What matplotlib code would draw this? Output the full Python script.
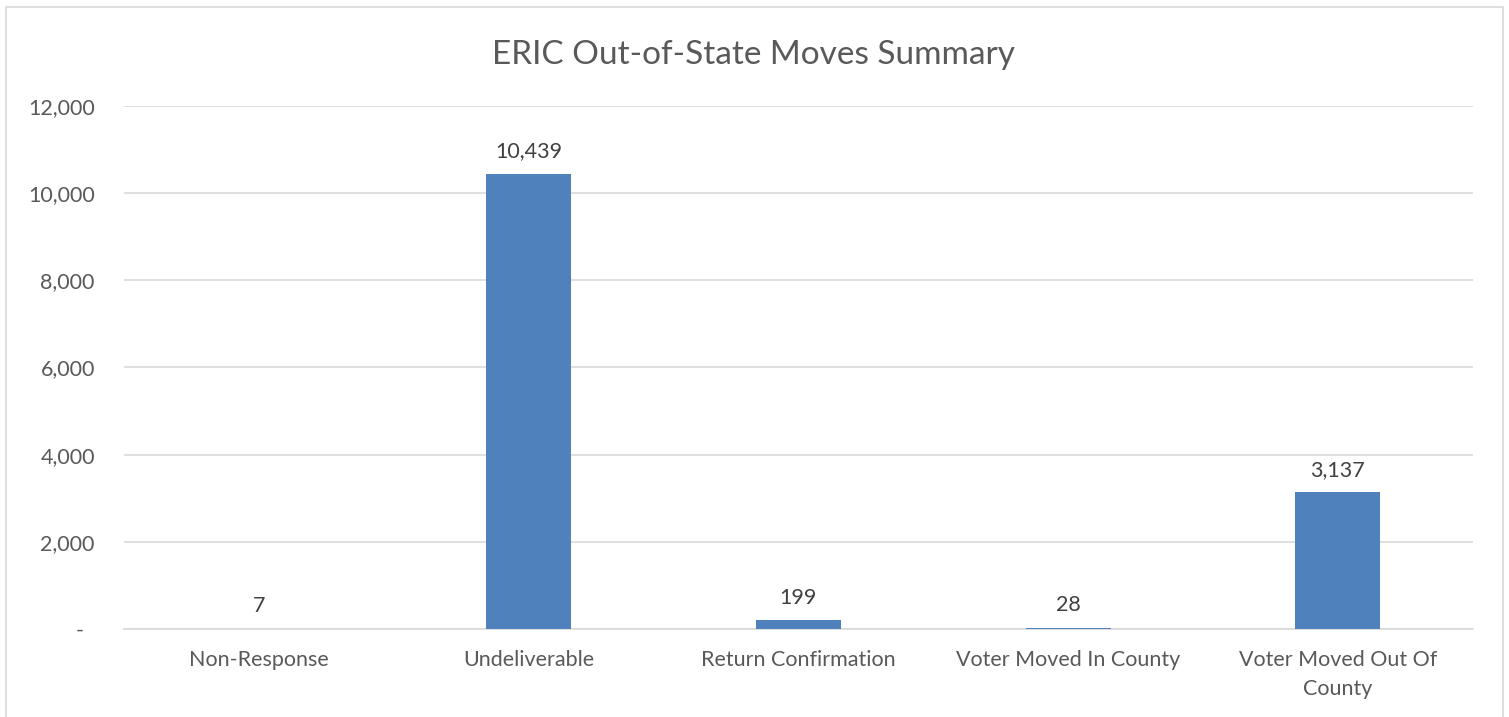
import matplotlib.pyplot as plt
from matplotlib.patches import Rectangle
from matplotlib.ticker import FuncFormatter

plt.rcParams['font.family'] = ['Lato', 'DejaVu Sans']

# data
categories = ['Non-Response', 'Undeliverable', 'Return Confirmation',
              'Voter Moved In County', 'Voter Moved Out Of\nCounty']
values = [7, 10439, 199, 28, 3137]
yticks = [0, 2000, 4000, 6000, 8000, 10000, 12000]

text_color = '#595959'
bar_color = '#4F81BD'
grid_color = '#D9D9D9'

fig = plt.figure(figsize=(15.09, 7.17), dpi=100)
ax = fig.add_axes([0.0822, 0.1227, 0.8938, 0.7295])

x = range(len(categories))
bars = ax.bar(x, values, width=0.315, color=bar_color, zorder=3)

# data labels
for b, v in zip(bars, values):
    ax.annotate(f'{v:,}', (b.get_x() + b.get_width() / 2, v),
                xytext=(0, 9), textcoords='offset points',
                ha='center', va='bottom', fontsize=15.5, color='#404040')

ax.set_xlim(-0.5, len(categories) - 0.5)
ax.set_ylim(0, 12000)
ax.set_yticks(yticks)
# accounting-style format: zero shows as a dash
ax.yaxis.set_major_formatter(FuncFormatter(lambda v, p: '-  ' if v == 0 else f'{int(v):,}'))
ax.set_xticks(list(x))
ax.set_xticklabels(categories, linespacing=1.55)

ax.tick_params(axis='y', length=0, pad=21, labelsize=15.5, labelcolor=text_color)
ax.tick_params(axis='x', length=0, pad=15, labelsize=15.5, labelcolor=text_color)

ax.grid(axis='y', color=grid_color, linewidth=1.2, zorder=0)
for s in ['top', 'right', 'left']:
    ax.spines[s].set_visible(False)
ax.spines['bottom'].set_color(grid_color)
ax.spines['bottom'].set_linewidth(1.2)

# title is centred on the whole chart, not the plot area
ax.set_title('ERIC Out-of-State Moves Summary', fontsize=24, color=text_color,
             pad=30, x=0.467)

# outer chart border
fig.patches.append(Rectangle((6 / 1509, -0.05), 1497 / 1509, 1 - 7 / 717 + 0.05,
                             transform=fig.transFigure, fill=False,
                             edgecolor='#D9D9D9', linewidth=1.2))

fig.savefig('out.png', dpi=100)
